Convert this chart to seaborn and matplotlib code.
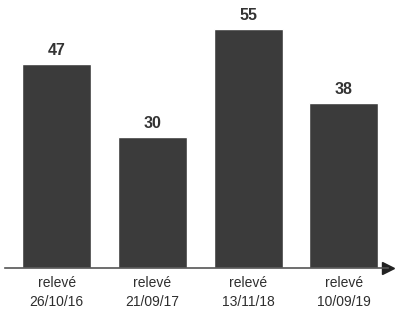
import matplotlib
matplotlib.use("Agg")
import matplotlib.pyplot as plt
import seaborn as sns
import pandas as pd

# data
releves = ["relevé\n26/10/16", "relevé\n21/09/17", "relevé\n13/11/18", "relevé\n10/09/19"]
valeurs = [47, 30, 55, 38]

bar_color = "#3b3b3b"
txt_color = "#2e2e2e"

sns.set_theme(style="white")
plt.rcParams['font.family'] = ['Liberation Sans', 'DejaVu Sans']

df = pd.DataFrame({"releve": releves, "valeur": valeurs})

fig = plt.figure(figsize=(3.95, 3.17), dpi=100)
ax = fig.add_axes([5 / 395, 49 / 317, 383 / 395, 268 / 317])

sns.barplot(data=df, x="releve", y="valeur", color=bar_color, width=0.72,
            saturation=1, ax=ax)

ax.set_xlim(-0.54, 3.46)
ax.set_ylim(0, 61.6)

for i, v in enumerate(valeurs):
    ax.text(i, v + 3.1, str(v), ha="center", va="center", fontsize=11.5,
            fontweight="bold", color="#333333")

for s in ["top", "right", "left"]:
    ax.spines[s].set_visible(False)
ax.spines["bottom"].set_color("#555555")
ax.spines["bottom"].set_linewidth(1.2)
ax.plot(1.0, 0, marker=">", color="#222222", markersize=8,
        transform=ax.transAxes, clip_on=False)

ax.set_yticks([])
ax.set_xlabel("")
ax.set_ylabel("")
ax.tick_params(axis="x", length=0, pad=6, labelsize=10, labelcolor=txt_color)
for lab in ax.get_xticklabels():
    lab.set_linespacing(1.45)

fig.savefig("out.png", dpi=100)
